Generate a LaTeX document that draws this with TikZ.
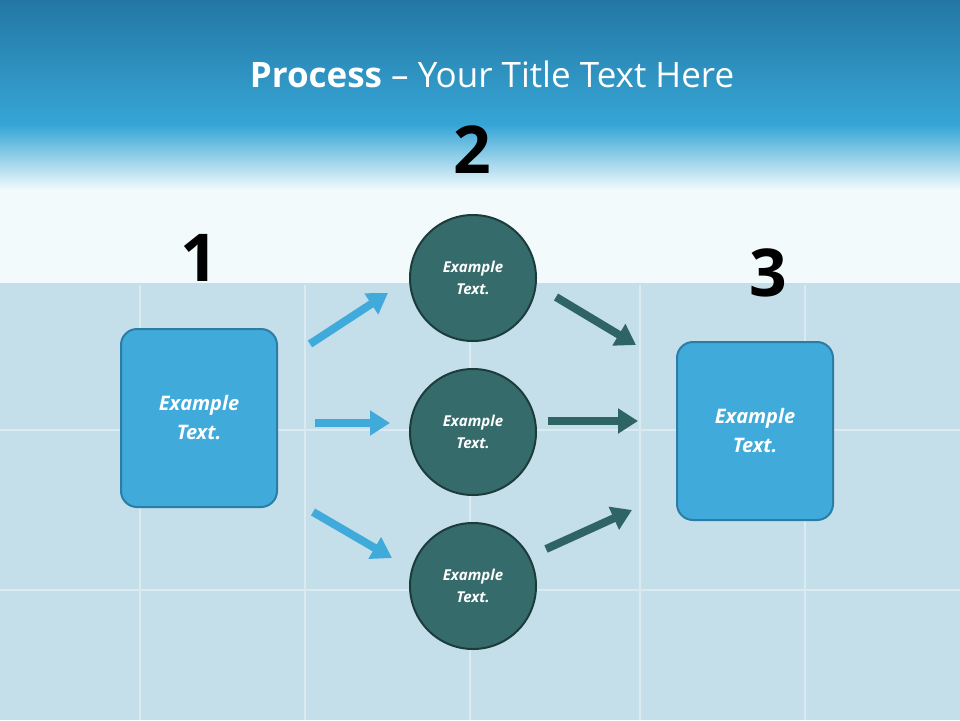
\documentclass[tikz,border=0pt]{standalone}
\usepackage{fontspec}
\setmainfont{Open Sans}
\usetikzlibrary{arrows.meta,shadings}
\definecolor{topdark}{HTML}{2477A3}
\definecolor{topmid}{HTML}{36A6D6}
\definecolor{pale}{HTML}{F2FAFC}
\definecolor{puzzle}{HTML}{C4DEEA}
\definecolor{boxfill}{HTML}{40AADA}
\definecolor{boxline}{HTML}{2A7EA6}
\definecolor{circfill}{HTML}{366B6B}
\definecolor{circline}{HTML}{1C3C3C}
\definecolor{darrow}{HTML}{2F6464}
\tikzset{
 bx/.style={draw=boxline,line width=2pt,fill=boxfill,rounded corners=16pt,minimum width=156pt,minimum height=178pt,text=white,font=\fontsize{20}{29}\selectfont\bfseries\itshape,align=center},
 cc/.style={circle,draw=circline,line width=2pt,fill=circfill,minimum size=126pt,text=white,font=\fontsize{15}{22}\selectfont\bfseries\itshape,align=center},
 num/.style={font=\fontsize{66}{70}\selectfont\bfseries,text=black},
 barr/.style={line width=8pt,color=boxfill,-{Triangle[length=20pt,width=24pt]}},
 darr/.style={line width=8pt,color=darrow,-{Triangle[length=20pt,width=24pt]}}
}
\begin{document}
\begin{tikzpicture}[x=1pt,y=-1pt]
\useasboundingbox (0,0) rectangle (960,720);
\fill[puzzle] (0,280) rectangle (960,720);
\fill[pale] (0,180) rectangle (960,283);
\shade[top color=topdark,bottom color=topmid] (0,0) rectangle (960,125);
\shade[top color=topmid,bottom color=pale] (0,125) rectangle (960,190);
% faint puzzle hints
\foreach \x in {140,305,470,640,805} \draw[white!35!puzzle,line width=1.2pt] (\x,285) -- (\x,720);
\foreach \y in {430,590} \draw[white!35!puzzle,line width=1.2pt] (0,\y) -- (960,\y);
\node[text=white,font=\fontsize{35}{40}\selectfont] (title) at (492,74) {\textbf{Process} -- Your Title Text Here};
\node[bx] (b1) at (199,418) {Example\\Text.};
\node[bx] (b3) at (755,431) {Example\\Text.};
\node[cc] (c1) at (473,278) {Example\\Text.};
\node[cc] (c2) at (473,432) {Example\\Text.};
\node[cc] (c3) at (473,586) {Example\\Text.};
\node[num] (n1) at (199,258) {1};
\node[num] (n2) at (472,150) {2};
\node[num] (n3) at (768,273) {3};
\coordinate (a1s) at (310,344); \coordinate (a1e) at (388,293);
\coordinate (a2s) at (315,423); \coordinate (a2e) at (390,423);
\coordinate (a3s) at (313,512); \coordinate (a3e) at (392,558);
\coordinate (d1s) at (556,297); \coordinate (d1e) at (636,345);
\coordinate (d2s) at (548,421); \coordinate (d2e) at (638,421);
\coordinate (d3s) at (546,549); \coordinate (d3e) at (632,510);
\draw[barr] (a1s) -- (a1e);
\draw[barr] (a2s) -- (a2e);
\draw[barr] (a3s) -- (a3e);
\draw[darr] (d1s) -- (d1e);
\draw[darr] (d2s) -- (d2e);
\draw[darr] (d3s) -- (d3e);
\end{tikzpicture}
\end{document}
